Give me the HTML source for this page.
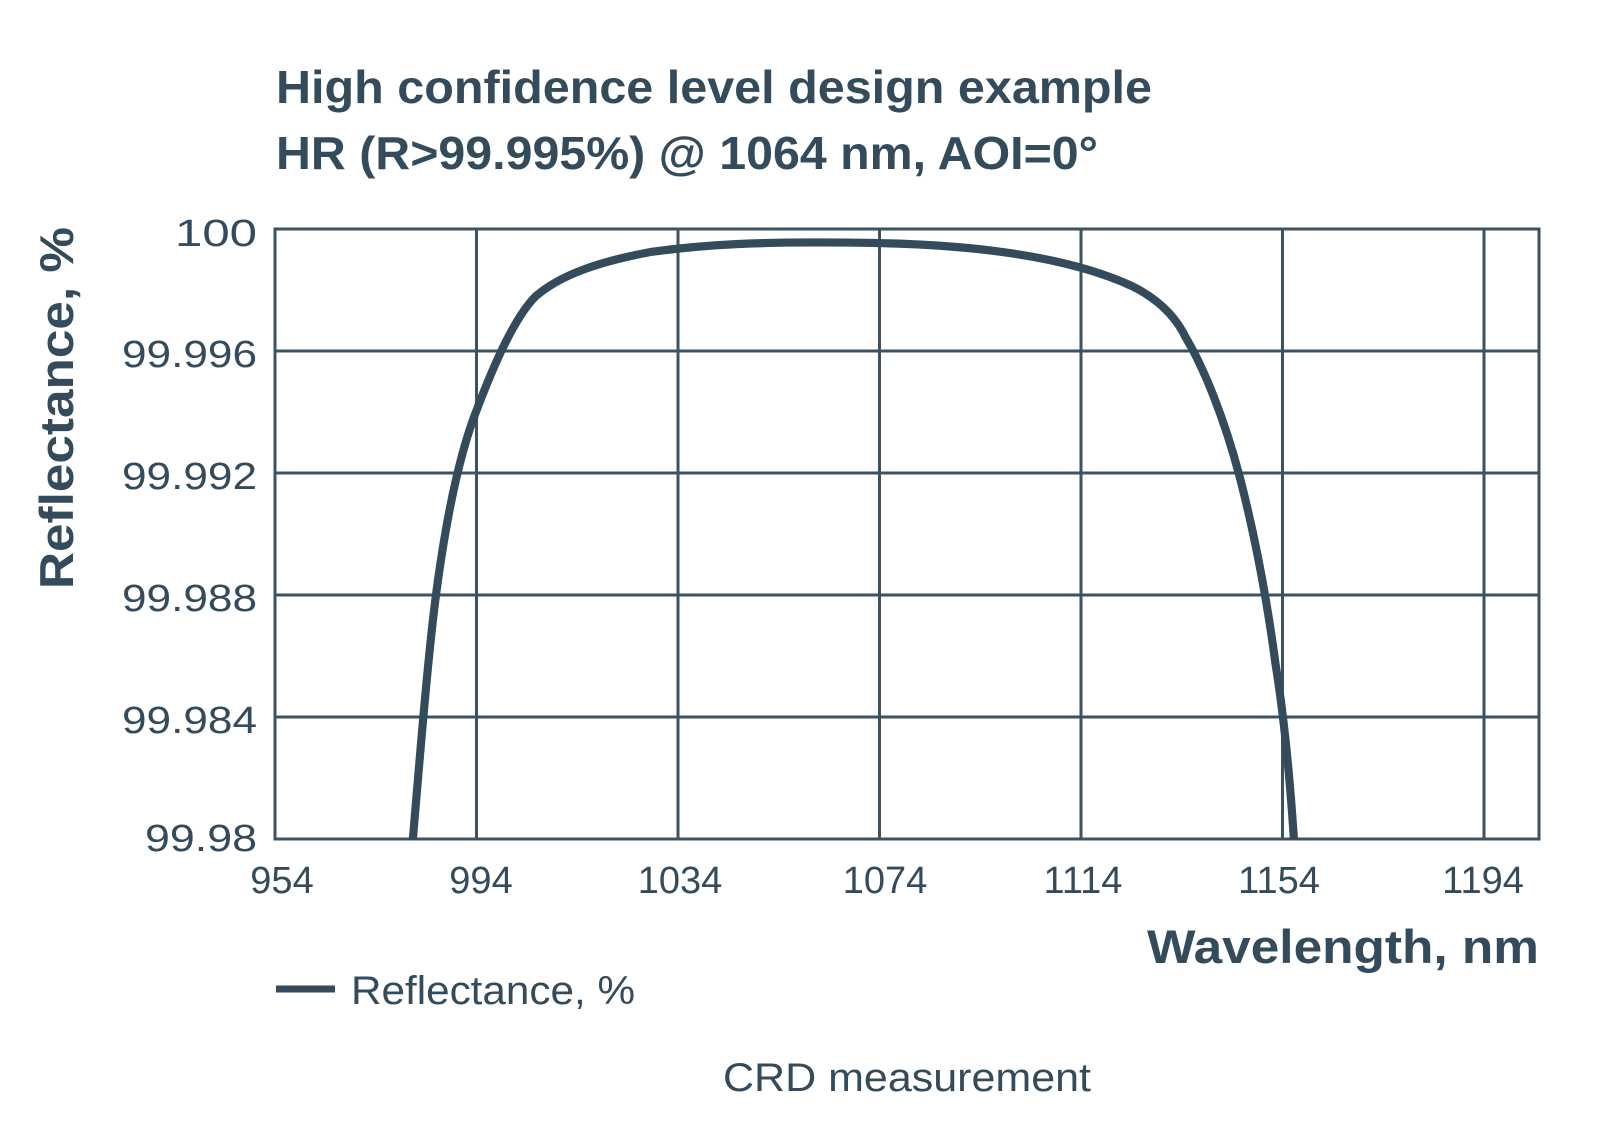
<!DOCTYPE html>
<html><head><meta charset="utf-8"><style>
html,body{margin:0;padding:0;background:#fff;}
svg{display:block;}
text{font-family:"Liberation Sans",sans-serif;fill:#344b5c;}
</style></head><body>
<svg width="1600" height="1133" viewBox="0 0 1600 1133" xmlns="http://www.w3.org/2000/svg">
<text x="276" y="103" font-size="46" font-weight="bold" textLength="876" lengthAdjust="spacingAndGlyphs">High confidence level design example</text>
<text x="276" y="169" font-size="46" font-weight="bold" textLength="822" lengthAdjust="spacingAndGlyphs">HR (R&gt;99.995%) @ 1064 nm, AOI=0°</text>
<g stroke="#3d5261" stroke-width="3" fill="none">
<rect x="275" y="229" width="1264" height="610"/>
<line x1="476.5" y1="229" x2="476.5" y2="839"/>
<line x1="678" y1="229" x2="678" y2="839"/>
<line x1="879.5" y1="229" x2="879.5" y2="839"/>
<line x1="1081" y1="229" x2="1081" y2="839"/>
<line x1="1282.5" y1="229" x2="1282.5" y2="839"/>
<line x1="1484" y1="229" x2="1484" y2="839"/>
<line x1="275" y1="351" x2="1539" y2="351"/>
<line x1="275" y1="473" x2="1539" y2="473"/>
<line x1="275" y1="595" x2="1539" y2="595"/>
<line x1="275" y1="717" x2="1539" y2="717"/>
</g>
<g transform="translate(-0.7,0.5) scale(1.021)">
<path d="M405,822 C412,740 420,640 428,580 C436,520 448,450 468,400 C485,355 505,310 525,290 C550,268 590,255 640,246 C700,238 750,237 800,237 C860,237 920,238 980,246 C1040,254 1080,266 1110,280 C1130,290 1150,305 1162,330 C1180,360 1200,410 1215,467 C1230,525 1242,590 1250,650 C1258,700 1264,760 1268,822" stroke="#344b5c" stroke-width="8" fill="none"/>
</g>
<g font-size="38" text-anchor="end">
<text x="257" y="246" textLength="82" lengthAdjust="spacingAndGlyphs">100</text>
<text x="257" y="367" textLength="135" lengthAdjust="spacingAndGlyphs">99.996</text>
<text x="257" y="489" textLength="135" lengthAdjust="spacingAndGlyphs">99.992</text>
<text x="257" y="611" textLength="135" lengthAdjust="spacingAndGlyphs">99.988</text>
<text x="257" y="733" textLength="135" lengthAdjust="spacingAndGlyphs">99.984</text>
<text x="257" y="851" textLength="112" lengthAdjust="spacingAndGlyphs">99.98</text>
</g>
<g font-size="38" text-anchor="middle">
<text x="282" y="893">954</text>
<text x="481" y="893">994</text>
<text x="680" y="893">1034</text>
<text x="885" y="893">1074</text>
<text x="1083" y="893">1114</text>
<text x="1279" y="893">1154</text>
<text x="1483" y="893">1194</text>
</g>
<text x="1539" y="963" font-size="47" font-weight="bold" text-anchor="end" textLength="392" lengthAdjust="spacingAndGlyphs">Wavelength, nm</text>
<text transform="translate(73,408) rotate(-90)" font-size="47" font-weight="bold" text-anchor="middle" textLength="362" lengthAdjust="spacingAndGlyphs">Reflectance, %</text>
<line x1="276" y1="989" x2="335" y2="989" stroke="#344b5c" stroke-width="7"/>
<text x="351" y="1004" font-size="40" textLength="284" lengthAdjust="spacingAndGlyphs">Reflectance, %</text>
<text x="907" y="1091" font-size="40" text-anchor="middle" textLength="368" lengthAdjust="spacingAndGlyphs">CRD measurement</text>
</svg>
</body></html>
